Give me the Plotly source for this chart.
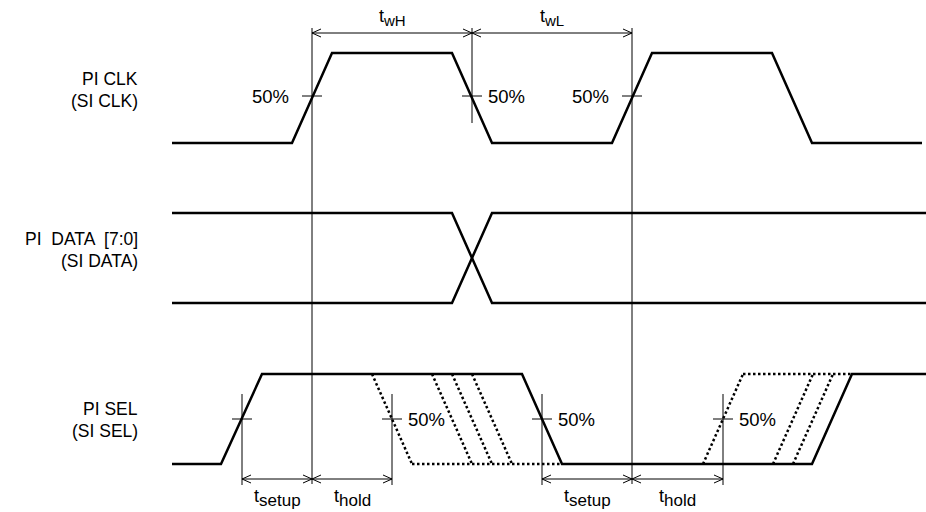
import plotly.graph_objects as go

# rails of each lane (y rows: low / high)
CLK_LOW, CLK_HIGH = 143, 53
DATA_LOW, DATA_HIGH = 303, 213
SEL_LOW, SEL_HIGH = 464, 374
EDGE = 40  # rise / fall time

# PI CLK waveform
clk_t = [172, 292, 332, 452, 492, 612, 652, 772, 812, 922]
clk_v = [0, 0, 1, 1, 0, 0, 1, 1, 0, 0]

# PI DATA bus (two rails crossing)
data_t = [172, 452, 492, 926]
data_a = [1, 1, 0, 0]
data_b = [0, 0, 1, 1]

# PI SEL waveform
sel_t = [172, 221, 262, 522, 562, 812, 852, 926]
sel_v = [0, 0, 1, 1, 0, 0, 1, 1]

# possible earlier SEL edges (dotted)
sel_fall_starts = [372, 432, 452, 472]
sel_rise_starts = [703, 773, 793]

# reference (timing) lines
ref_x = [312, 472, 632, 242, 392, 542, 723]
ref_top = [28, 28, 28, 394, 394, 394, 394]
ref_bot = [484, 123, 484, 485, 485, 485, 485]
ref_mid = [96, 96, 96, 419, 419, 419, 419]

# 50% labels: x position, side
pct_x = [312, 472, 632, 392, 542, 723]
pct_y = [96, 96, 96, 419, 419, 419]
pct_side = ['left', 'right', 'left', 'right', 'right', 'right']

# dimension arrows
dim_from = [312, 472, 242, 312, 542, 632]
dim_to = [472, 632, 312, 392, 632, 723]
dim_y = [33, 33, 479, 479, 479, 479]
dim_sym = ['wH', 'wL', 'setup', 'hold', 'setup', 'hold']
dim_sub_size = [15, 15, 17, 17, 17, 17]
dim_label_y = [17, 17, 498, 498, 498, 498]

signal_names = ['PI CLK', '(SI CLK)', 'PI  DATA  [7:0]', '(SI DATA)', 'PI SEL', '(SI SEL)']
signal_name_y = [79, 101, 239, 261, 409, 431]

FONT = dict(family='Liberation Sans, Arial, sans-serif', size=17.5, color='black')
PCT_FONT = dict(family='Liberation Sans, Arial, sans-serif', size=18.5, color='black')
T_FONT = dict(family='Liberation Sans, Arial, sans-serif', size=18, color='black')


def level(v, low, high):
    return [low + (high - low) * s for s in v]


fig = go.Figure()
solid = dict(color='black', width=2.5)

fig.add_trace(go.Scatter(x=clk_t, y=level(clk_v, CLK_LOW, CLK_HIGH), mode='lines', line=solid))
fig.add_trace(go.Scatter(x=data_t, y=level(data_a, DATA_LOW, DATA_HIGH), mode='lines', line=solid))
fig.add_trace(go.Scatter(x=data_t, y=level(data_b, DATA_LOW, DATA_HIGH), mode='lines', line=solid))
fig.add_trace(go.Scatter(x=sel_t, y=level(sel_v, SEL_LOW, SEL_HIGH), mode='lines', line=solid))

# dotted alternative edges
dx, dy = [], []
for s in sel_fall_starts:
    dx += [s, s + EDGE, None]
    dy += [SEL_HIGH, SEL_LOW, None]
dx += [sel_fall_starts[0] + EDGE, sel_t[4], None]
dy += [SEL_LOW, SEL_LOW, None]
for s in sel_rise_starts:
    dx += [s, s + EDGE, None]
    dy += [SEL_LOW, SEL_HIGH, None]
dx += [sel_rise_starts[0] + EDGE, sel_t[6]]
dy += [SEL_HIGH, SEL_HIGH]
fig.add_trace(go.Scatter(x=dx, y=dy, mode='lines',
                         line=dict(color='black', width=2.5, dash='2.5px,2.5px')))

# thin reference lines, 50% ticks, dimension arrows
tx, ty = [], []
for x, t, b, m in zip(ref_x, ref_top, ref_bot, ref_mid):
    tx += [x, x, None, x - 10, x + 10, None]
    ty += [t, b, None, m, m, None]
for a, b, y in zip(dim_from, dim_to, dim_y):
    tx += [a, b, None]
    ty += [y, y, None]
    tx += [a + 9, a, a + 9, None, b - 9, b, b - 9, None]
    ty += [y - 4, y, y + 4, None, y - 4, y, y + 4, None]
fig.add_trace(go.Scatter(x=tx, y=ty, mode='lines', line=dict(color='black', width=1)))

for x, y, side in zip(pct_x, pct_y, pct_side):
    fig.add_annotation(x=x, y=y, text='50%', showarrow=False, font=PCT_FONT,
                       xanchor='right' if side == 'left' else 'left', yanchor='middle',
                       xshift=-21 if side == 'left' else 14)

for a, b, s, fs, y in zip(dim_from, dim_to, dim_sym, dim_sub_size, dim_label_y):
    text = 't<sub><span style="font-size:%dpx">%s</span></sub>' % (fs, s)
    fig.add_annotation(x=(a + b) / 2, y=y, text=text, showarrow=False, font=T_FONT,
                       xanchor='center', yanchor='middle')

for t, y in zip(signal_names, signal_name_y):
    fig.add_annotation(x=140, y=y, text=t, showarrow=False, font=FONT,
                       xanchor='right', yanchor='middle')

fig.update_layout(
    width=926, height=512,
    margin=dict(l=0, r=0, t=0, b=0),
    paper_bgcolor='white', plot_bgcolor='white',
    showlegend=False,
    xaxis=dict(range=[0, 926], visible=False, fixedrange=True),
    yaxis=dict(range=[512, 0], visible=False, fixedrange=True),
)

fig.write_html("out.html", config=dict(displayModeBar=False),
               post_script="document.body.style.margin='0';document.body.style.overflow='hidden';")
